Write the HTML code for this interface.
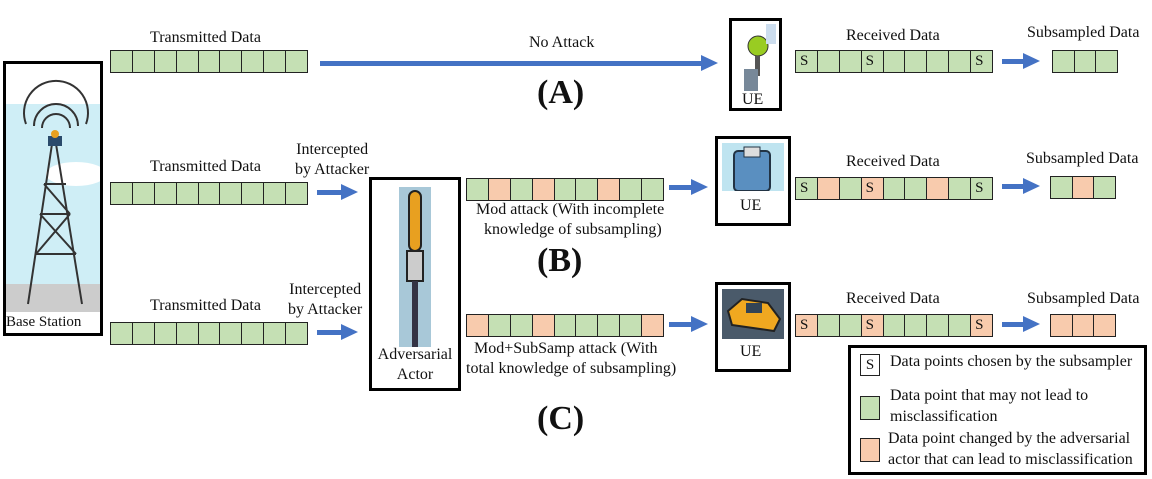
<!DOCTYPE html>
<html><head><meta charset="utf-8"><style>
body{margin:0;width:1152px;height:479px;background:#fff;position:relative;overflow:hidden;font-family:"Liberation Serif",serif;color:#111}
.a{position:absolute}
.bar{position:absolute;display:flex;height:23px;border:1.5px solid #222;box-sizing:border-box}
.bar i{flex:1;border-right:1.5px solid #222;background:#c5e0b4;font-style:normal;font-size:15px;line-height:20px;padding-left:4px;box-sizing:border-box}
.bar i:last-child{border-right:none}
.bar i.o{background:#f8cbad}
.t{position:absolute;font-size:16px;white-space:nowrap}
.box{position:absolute;border:3px solid #000;box-sizing:border-box;background:#fff}
.big{position:absolute;font-size:34px;font-weight:bold}
.ar{position:absolute;height:5px;background:#4472c4}
.ar:after{content:"";position:absolute;right:-16px;top:-6px;border-left:17px solid #4472c4;border-top:8.5px solid transparent;border-bottom:8.5px solid transparent}
</style></head><body>

<!-- Base station -->
<div class="box" style="left:3px;top:61px;width:100px;height:275px">
<svg width="94" height="269" style="position:absolute;left:0;top:0">
<rect x="0" y="40" width="94" height="205" fill="#cfeef6"/>
<ellipse cx="70" cy="110" rx="30" ry="12" fill="#fff"/>
<rect x="0" y="220" width="94" height="28" fill="#ccc"/>
<g fill="none" stroke="#333" stroke-width="2">
<path d="M20 60 A32 32 0 1 1 80 60"/><path d="M28 62 A22 22 0 1 1 72 62"/><path d="M36 64 A13 13 0 1 1 64 64"/>
<path d="M46 80 L22 240 M50 80 L76 240 M30 190 L70 190 M34 150 L64 150 M38 120 L60 120 M30 190 L64 150 M70 190 L34 150 M38 120 L64 150"/>
</g>
<rect x="42" y="72" width="14" height="10" fill="#2b4a6b"/>
<circle cx="49" cy="70" r="4" fill="#e8a020"/>
</svg>
<div class="t" style="left:0;top:250px;font-size:15px">Base Station</div>
</div>

<!-- Row A -->
<div class="t" style="left:150px;top:29px">Transmitted Data</div>
<div class="bar" style="left:110px;top:50px;width:198px"><i></i><i></i><i></i><i></i><i></i><i></i><i></i><i></i><i></i></div>
<div class="t" style="left:529px;top:34px">No Attack</div>
<div class="ar" style="left:320px;top:61px;width:382px"></div>
<div class="big" style="left:537px;top:74px">(A)</div>
<div class="box" style="left:729px;top:18px;width:53px;height:93px">
<svg width="47" height="70" style="position:absolute;left:8px;top:3px"><circle cx="18" cy="22" r="10" fill="#9c2" stroke="#333"/><rect x="15" y="32" width="5" height="20" fill="#555"/><rect x="4" y="45" width="14" height="22" fill="#789"/><rect x="26" y="0" width="10" height="20" fill="#cde"/></svg>
<div class="t" style="left:10px;top:70px">UE</div></div>
<div class="t" style="left:846px;top:27px">Received Data</div>
<div class="bar" style="left:795px;top:50px;width:198px"><i>S</i><i></i><i></i><i>S</i><i></i><i></i><i></i><i></i><i>S</i></div>
<div class="ar" style="left:1002px;top:59px;width:22px"></div>
<div class="t" style="left:1027px;top:24px">Subsampled Data</div>
<div class="bar" style="left:1052px;top:50px;width:66px"><i></i><i></i><i></i></div>

<!-- Row B -->
<div class="t" style="left:150px;top:158px">Transmitted Data</div>
<div class="bar" style="left:110px;top:182px;width:198px"><i></i><i></i><i></i><i></i><i></i><i></i><i></i><i></i><i></i></div>
<div class="t" style="left:295px;top:140px;text-align:center;line-height:20px">Intercepted<br>by Attacker</div>
<div class="ar" style="left:317px;top:190px;width:25px"></div>
<div class="box" style="left:369px;top:177px;width:92px;height:214px">
<svg width="40" height="160" style="position:absolute;left:27px;top:7px"><rect x="0" y="0" width="32" height="160" fill="#a8c8d8"/><rect x="10" y="4" width="12" height="60" rx="6" fill="#e8a020" stroke="#222" stroke-width="2"/><rect x="8" y="64" width="16" height="30" fill="#ccc" stroke="#222" stroke-width="2"/><rect x="13" y="94" width="6" height="66" fill="#334"/></svg>
<div class="t" style="left:-3px;top:165px;width:92px;text-align:center;line-height:20px">Adversarial<br>Actor</div></div>
<div class="bar" style="left:466px;top:178px;width:198px"><i></i><i class="o"></i><i></i><i class="o"></i><i></i><i></i><i class="o"></i><i></i><i></i></div>
<div class="t" style="left:476px;top:200px;line-height:20px">Mod attack (With incomplete<br>&nbsp;&nbsp;knowledge of subsampling)</div>
<div class="ar" style="left:669px;top:185px;width:23px"></div>
<div class="box" style="left:715px;top:136px;width:76px;height:90px">
<svg width="62" height="48" style="position:absolute;left:4px;top:4px"><rect width="62" height="48" fill="#bfe4f0"/><rect x="12" y="8" width="36" height="40" rx="4" fill="#5a8fc0" stroke="#234" stroke-width="2"/><rect x="22" y="4" width="16" height="10" fill="#ddd" stroke="#234"/></svg>
<div class="t" style="left:22px;top:58px">UE</div></div>
<div class="t" style="left:846px;top:153px">Received Data</div>
<div class="bar" style="left:795px;top:177px;width:198px"><i>S</i><i class="o"></i><i></i><i class="o">S</i><i></i><i></i><i class="o"></i><i></i><i>S</i></div>
<div class="ar" style="left:1002px;top:184px;width:22px"></div>
<div class="t" style="left:1026px;top:150px">Subsampled Data</div>
<div class="bar" style="left:1050px;top:176px;width:66px"><i></i><i class="o"></i><i></i></div>
<div class="big" style="left:537px;top:242px">(B)</div>

<!-- Row C -->
<div class="t" style="left:150px;top:297px">Transmitted Data</div>
<div class="bar" style="left:110px;top:322px;width:198px"><i></i><i></i><i></i><i></i><i></i><i></i><i></i><i></i><i></i></div>
<div class="t" style="left:288px;top:280px;text-align:center;line-height:20px">Intercepted<br>by Attacker</div>
<div class="ar" style="left:317px;top:330px;width:25px"></div>
<div class="bar" style="left:466px;top:314px;width:198px"><i class="o"></i><i></i><i></i><i class="o"></i><i></i><i></i><i></i><i></i><i class="o"></i></div>
<div class="t" style="left:466px;top:339px;line-height:20px">&nbsp;&nbsp;Mod+SubSamp attack (With<br>total knowledge of subsampling)</div>
<div class="ar" style="left:669px;top:322px;width:23px"></div>
<div class="box" style="left:715px;top:282px;width:76px;height:90px">
<svg width="62" height="50" style="position:absolute;left:4px;top:4px"><rect width="62" height="50" fill="#4a5a6a"/><path d="M6 22 L20 10 L46 14 L58 30 L52 42 L10 36Z" fill="#f0a820" stroke="#222" stroke-width="2"/><rect x="24" y="14" width="16" height="10" fill="#345"/></svg>
<div class="t" style="left:22px;top:58px">UE</div></div>
<div class="t" style="left:846px;top:290px">Received Data</div>
<div class="bar" style="left:795px;top:314px;width:198px"><i class="o">S</i><i></i><i></i><i class="o">S</i><i></i><i></i><i></i><i></i><i class="o">S</i></div>
<div class="ar" style="left:1002px;top:322px;width:22px"></div>
<div class="t" style="left:1027px;top:290px">Subsampled Data</div>
<div class="bar" style="left:1050px;top:314px;width:66px"><i class="o"></i><i class="o"></i><i class="o"></i></div>
<div class="big" style="left:537px;top:400px">(C)</div>

<!-- Legend -->
<div class="box" style="left:848px;top:345px;width:299px;height:130px">
<div class="a" style="left:9px;top:6px;width:18px;height:20px;border:1px solid #222;font-size:15px;text-align:center;line-height:20px">S</div>
<div class="t" style="left:39px;top:5px">Data points chosen by the subsampler</div>
<div class="a" style="left:9px;top:48px;width:18px;height:22px;border:1px solid #222;background:#c5e0b4"></div>
<div class="t" style="left:39px;top:37px;line-height:21px">Data point that may not lead to<br>misclassification</div>
<div class="a" style="left:9px;top:90px;width:18px;height:22px;border:1px solid #222;background:#f8cbad"></div>
<div class="t" style="left:37px;top:80px;line-height:21px">Data point changed by the adversarial<br>actor that can lead to misclassification</div>
</div>
</body></html>
